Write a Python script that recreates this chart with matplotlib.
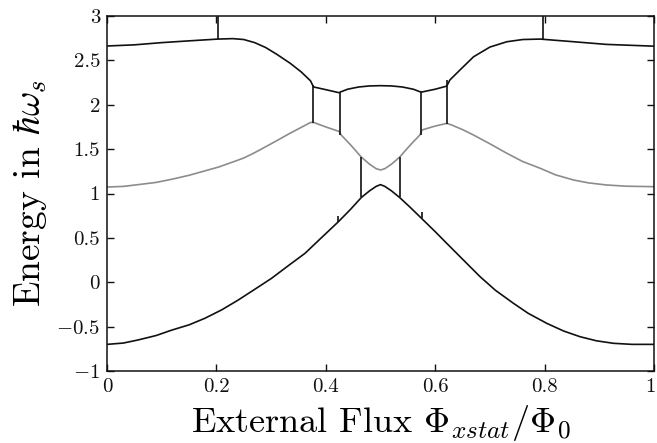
import matplotlib
matplotlib.use("Agg")
import matplotlib.pyplot as plt
from matplotlib.transforms import ScaledTranslation

plt.rcParams['font.family'] = 'serif'
plt.rcParams['font.serif'] = ['cmr10', 'DejaVu Serif']
plt.rcParams['mathtext.fontset'] = 'cm'
plt.rcParams['axes.formatter.use_mathtext'] = True

# ---- data ----
# level 0 (black, lowest)
x_lvl0 = [0.0, 0.03, 0.057, 0.09, 0.118, 0.15, 0.179, 0.21, 0.240, 0.27, 0.301, 0.33,
          0.362, 0.39, 0.423, 0.445, 0.465, 0.48, 0.492, 0.5, 0.508, 0.52,
          0.535, 0.555, 0.575, 0.60, 0.621, 0.65, 0.682, 0.71, 0.743, 0.77, 0.804,
          0.835, 0.865, 0.895, 0.926, 0.96, 1.0]
y_lvl0 = [-0.70, -0.685, -0.65, -0.60, -0.54, -0.48, -0.406, -0.31, -0.20, -0.08, 0.045, 0.18,
          0.326, 0.49, 0.682, 0.82, 0.955, 1.03, 1.08, 1.10, 1.08, 1.03,
          0.955, 0.84, 0.72, 0.57, 0.439, 0.26, 0.063, -0.09, -0.237, -0.35, -0.463,
          -0.55, -0.614, -0.66, -0.688, -0.70, -0.70]

# level 1 (gray, middle)
x_lvl1 = [0.0, 0.03, 0.057, 0.09, 0.118, 0.15, 0.179, 0.205, 0.230, 0.25, 0.27, 0.30,
          0.335, 0.372, 0.378, 0.40, 0.424,
          0.428, 0.445, 0.465, 0.48, 0.492, 0.5, 0.508, 0.52, 0.535, 0.555, 0.572,
          0.576, 0.60, 0.621, 0.630, 0.65, 0.670, 0.70, 0.731, 0.76, 0.792, 0.82,
          0.853, 0.88, 0.913, 0.95, 1.0]
y_lvl1 = [1.073, 1.08, 1.10, 1.125, 1.16, 1.205, 1.255, 1.30, 1.355, 1.40, 1.46, 1.56,
          1.68, 1.80, 1.80, 1.75, 1.70,
          1.66, 1.55, 1.41, 1.33, 1.28, 1.265, 1.28, 1.33, 1.41, 1.55, 1.66,
          1.716, 1.76, 1.79, 1.772, 1.72, 1.659, 1.56, 1.453, 1.36, 1.284, 1.21,
          1.152, 1.12, 1.096, 1.082, 1.077]

# level 2 (black, top)
x_lvl2 = [0.0, 0.05, 0.10, 0.15, 0.203, 0.23, 0.25, 0.27, 0.29, 0.31, 0.335, 0.355,
          0.372, 0.376, 0.378, 0.40, 0.424,
          0.428, 0.44, 0.46, 0.48, 0.5, 0.52, 0.54, 0.56, 0.572,
          0.576, 0.60, 0.621, 0.627, 0.645, 0.670, 0.70, 0.731, 0.76, 0.792,
          0.853, 0.913, 1.0]
y_lvl2 = [2.662, 2.675, 2.70, 2.72, 2.74, 2.745, 2.735, 2.70, 2.645, 2.57, 2.467, 2.37,
          2.27, 2.22, 2.20, 2.17, 2.136,
          2.147, 2.175, 2.20, 2.212, 2.215, 2.212, 2.20, 2.175, 2.147,
          2.144, 2.175, 2.21, 2.28, 2.39, 2.54, 2.65, 2.71, 2.735, 2.74,
          2.71, 2.68, 2.66]

# near-vertical jumps (sharp avoided crossings)
x_jump = [0.203, 0.376, 0.423, 0.426, 0.465, 0.535, 0.574, 0.575, 0.622, 0.797]
y_jump_lo = [2.74, 1.80, 0.682, 1.66, 0.955, 0.955, 1.66, 0.72, 1.78, 2.74]
y_jump_hi = [3.05, 2.22, 0.75, 2.145, 1.41, 1.41, 2.145, 0.79, 2.28, 3.05]

xticks = [0, 0.2, 0.4, 0.6, 0.8, 1]
xticklabels = ['0', '0.2', '0.4', '0.6', '0.8', '1']
yticks = [-1, -0.5, 0, 0.5, 1, 1.5, 2, 2.5, 3]
yticklabels = [r'$-1$', r'$-0.5$', '0', '0.5', '1', '1.5', '2', '2.5', '3']

# ---- figure ----
fig = plt.figure(figsize=(6.57, 4.43), dpi=100)
ax = fig.add_axes([107 / 657, 1 - 371 / 443, (654 - 107) / 657, (371 - 16) / 443])

black = '#111111'
gray = '#8c8c8c'
ax.plot(x_lvl1, y_lvl1, color=gray, lw=1.2)
ax.plot(x_lvl0, y_lvl0, color=black, lw=1.2)
ax.plot(x_lvl2, y_lvl2, color=black, lw=1.2)
ax.vlines(x_jump, y_jump_lo, y_jump_hi, color=black, lw=1.2)

ax.set_xlim(0, 1)
ax.set_ylim(-1, 3)
ax.set_xticks(xticks)
ax.set_xticklabels(xticklabels)
ax.set_yticks(yticks)
ax.set_yticklabels(yticklabels)
ax.tick_params(direction='in', top=True, right=True, length=5, width=1,
               labelsize=15, pad=5, colors='#111111')
for s in ax.spines.values():
    s.set_linewidth(1.1)
    s.set_color('#111111')

# nudge the last x tick label so it stays inside the canvas
last = ax.get_xticklabels()[-1]
last.set_transform(last.get_transform() + ScaledTranslation(-4 / 100, 0, fig.dpi_scale_trans))

ax.set_xlabel(r'External Flux $\Phi_{xstat}/\Phi_0$', fontsize=26, labelpad=5)
ax.set_ylabel(r'Energy in $\hbar\omega_s$', fontsize=27, labelpad=5)

fig.savefig('out.png', dpi=100)
